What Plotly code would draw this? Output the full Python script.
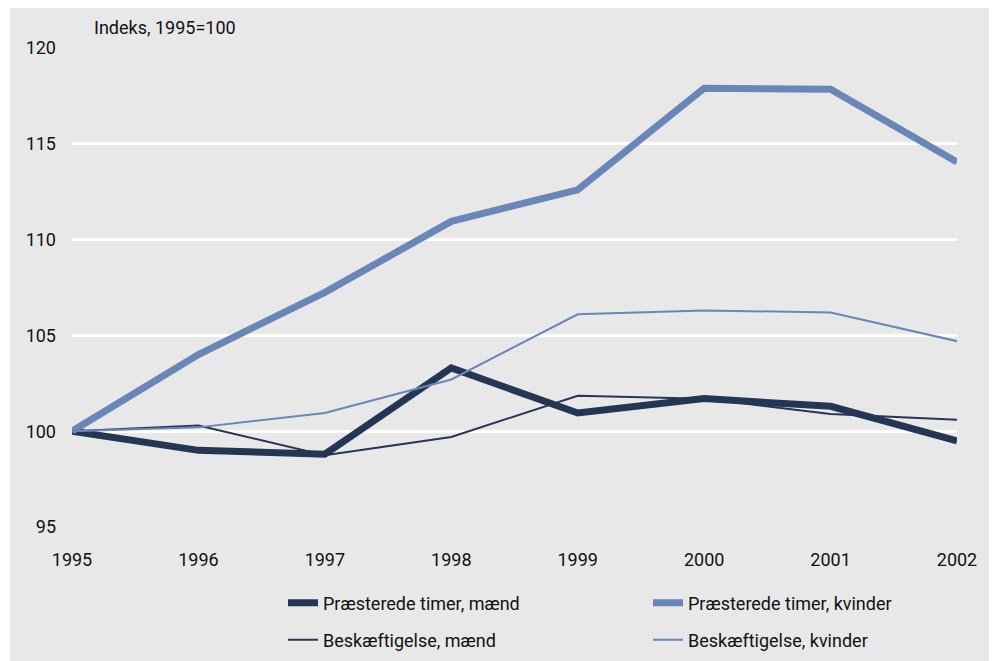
import plotly.graph_objects as go

years = [1995, 1996, 1997, 1998, 1999, 2000, 2001, 2002]
timer_maend = [100.0, 99.0, 98.8, 103.3, 100.95, 101.7, 101.3, 99.5]
timer_kvinder = [100.0, 104.0, 107.25, 110.95, 112.6, 117.9, 117.85, 114.05]
besk_maend = [100.0, 100.3, 98.75, 99.7, 101.85, 101.7, 100.9, 100.6]
besk_kvinder = [100.0, 100.2, 100.95, 102.7, 106.1, 106.3, 106.2, 104.7]
y_ticks = [95, 100, 105, 110, 115, 120]

NAVY = "#253654"
BLUE = "#6a86b8"
FONT = "Roboto, sans-serif"
FS = 18

# page body margin offset (8px) compensation
OFF = 8
W, H = 997, 661
L, R, T, B = 72 - OFF, 997 - (957 - OFF), 48 - OFF, 661 - (527 - OFF)
pw, ph = W - L - R, H - T - B

fig = go.Figure()
series = [
    ("Præsterede timer, mænd", timer_maend, NAVY, 7, "legend"),
    ("Præsterede timer, kvinder", timer_kvinder, BLUE, 7, "legend"),
    ("Beskæftigelse, mænd", besk_maend, NAVY, 2, "legend2"),
    ("Beskæftigelse, kvinder", besk_kvinder, BLUE, 2, "legend2"),
]
for name, vals, col, w, lg in series:
    fig.add_trace(go.Scatter(x=years, y=vals, name=name, mode="lines",
                             line=dict(color=col, width=w), legend=lg))

def px2x(p):
    return (p - OFF - L) / pw

def px2y(p):
    return (H - B - (p - OFF)) / ph

fig.add_shape(type="rect", xref="paper", yref="paper",
              x0=px2x(10), x1=px2x(994), y0=px2y(669), y1=px2y(8),
              fillcolor="#e8e8e8", line=dict(width=0), layer="below")

fig.add_annotation(text="Indeks, 1995=100", xref="paper", yref="paper",
                   x=px2x(92), y=px2y(28), xanchor="left", yanchor="middle",
                   showarrow=False, font=dict(family=FONT, size=FS, color="#111111"))

leg_common = dict(orientation="h", xanchor="left", yanchor="middle",
                  bgcolor="rgba(0,0,0,0)", entrywidth=320, entrywidthmode="pixels",
                  font=dict(family=FONT, size=FS, color="#111111"),
                  itemwidth=30)
fig.update_layout(
    width=W, height=H,
    margin=dict(l=L, r=R, t=T, b=B, autoexpand=False),
    paper_bgcolor="white",
    plot_bgcolor="#dcdcdc",
    showlegend=True,
    legend=dict(x=px2x(283), y=px2y(603), **leg_common),
    legend2=dict(x=px2x(283), y=px2y(640), **leg_common),
    xaxis=dict(range=[1995, 2002], tickvals=years, ticktext=[str(y) for y in years],
               showgrid=False, zeroline=False, showline=False, ticks="",
               ticklabelstandoff=20,
               tickfont=dict(family=FONT, size=FS, color="#111111")),
    yaxis=dict(range=[95, 120], tickvals=y_ticks, showgrid=True,
               gridcolor="white", gridwidth=3, zeroline=False, showline=False,
               ticks="", ticklabelstandoff=15,
               tickfont=dict(family=FONT, size=FS, color="#111111")),
)
fig.write_html("out.html")
